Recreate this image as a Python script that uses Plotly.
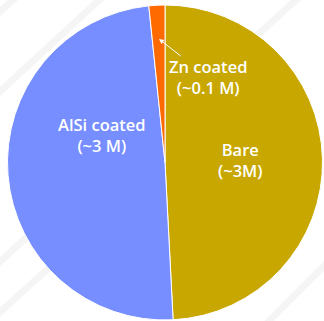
import plotly.graph_objects as go

# Coating split of the parts (millions)
categories = ["Bare", "AlSi coated", "Zn coated"]
values = [3.0, 3.0, 0.1]
labels = ["Bare<br>(~3M)", "AlSi coated<br>(~3 M)", "Zn coated<br>(~0.1 M)"]
colors = ["#C8A800", "#768EFF", "#FF6A00"]

W, H = 324, 321

fig = go.Figure(
    go.Pie(
        labels=categories,
        values=values,
        sort=False,
        direction="clockwise",
        rotation=0,
        textinfo="none",
        hoverinfo="label+value",
        marker=dict(colors=colors, line=dict(color="white", width=1)),
        domain=dict(x=[7 / W, 323 / W], y=[1 / H, 316 / H]),
        showlegend=False,
    )
)

def px(x, y):
    return x / W, (H - y) / H

label_font = dict(family="Open Sans", size=16.5, color="white", weight=600)

annotations = []
# text labels for each slice
for text, (x, y) in zip(labels, [(240, 160), (102, 135), (208, 77)]):
    ax_, ay_ = px(x, y)
    annotations.append(dict(x=ax_, y=ay_, xref="paper", yref="paper", text=text,
                            xanchor="center", yanchor="middle",
                            showarrow=False, font=label_font, align="center"))
# leader arrow for the thin Zn slice
hx, hy = px(159, 39)
annotations.append(dict(x=hx, y=hy, xref="paper", yref="paper", text="",
                        showarrow=True, ax=23, ay=18, arrowhead=2, arrowsize=1,
                        arrowwidth=1, arrowcolor="white"))

# faint diagonal stripes in the background
stripes = [(-20, 30, 35, -20), (-20, 110, 110, -10), (-20, 330, 80, 240), (-20, 280, 40, 225),
           (250, 340, 340, 250), (230, 60, 340, -40)]
shapes = []
for x0, y0, x1, y1 in stripes:
    a0, b0 = px(x0, y0)
    a1, b1 = px(x1, y1)
    shapes.append(dict(type="line", xref="paper", yref="paper", x0=a0, y0=b0, x1=a1, y1=b1,
                       line=dict(color="#F5F5F5", width=7), layer="below"))

fig.update_layout(
    width=W, height=H,
    margin=dict(l=0, r=0, t=0, b=0),
    paper_bgcolor="white",
    plot_bgcolor="white",
    annotations=annotations,
    shapes=shapes,
)

fig.write_html("out.html")
